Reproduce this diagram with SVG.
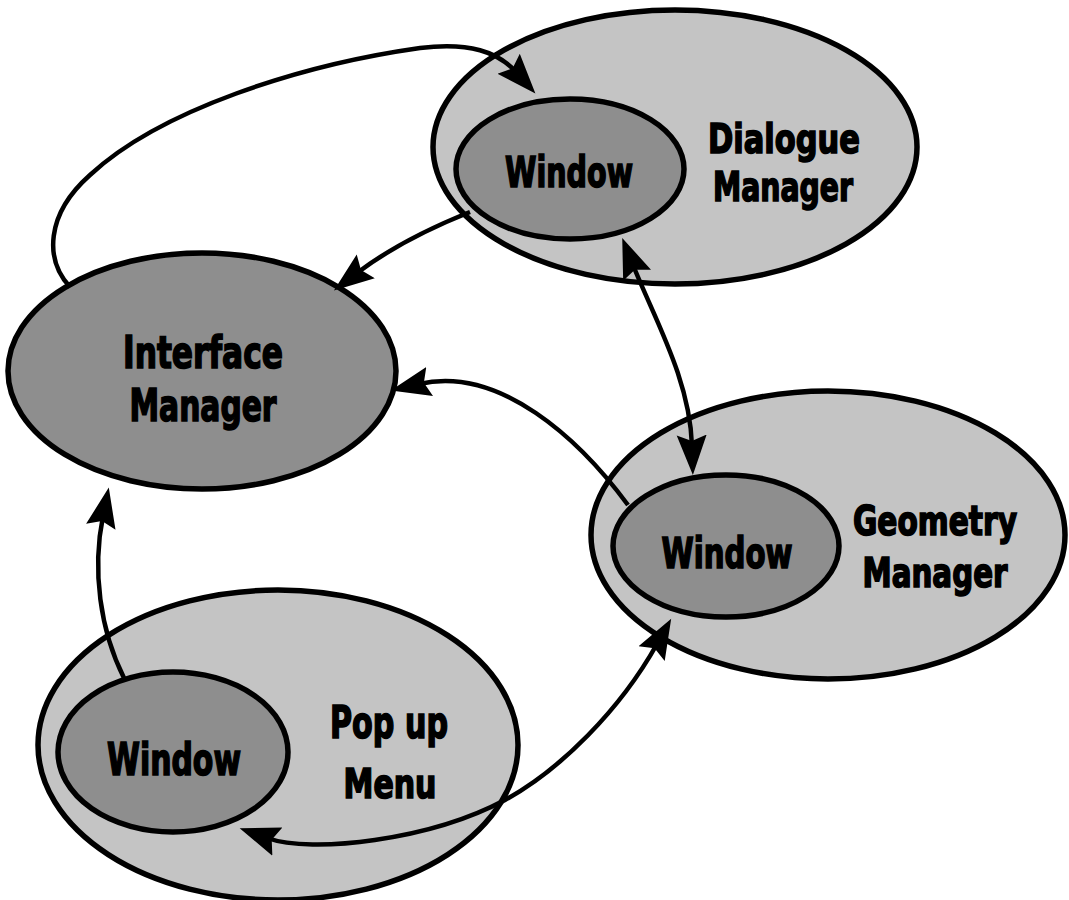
<svg xmlns="http://www.w3.org/2000/svg" width="1069" height="900" viewBox="0 0 1069 900">
  <style>
    .outer { fill: #c4c4c4; stroke: #000; stroke-width: 5.5; }
    .inner { fill: #8e8e8e; stroke: #000; stroke-width: 5.5; }
    .lbl { font-family: "Liberation Sans Narrow", "DejaVu Sans Condensed", "Liberation Sans", sans-serif; font-weight: bold; fill: #000; stroke: #000; stroke-width: 1.6; text-anchor: middle; }
    .edge { fill: none; stroke: #000; stroke-width: 4.5; }
  </style>
  <defs>
    <!-- filled, slightly swept-back arrowhead; the path end sits inside its body -->
    <marker id="head" markerUnits="userSpaceOnUse" markerWidth="44" markerHeight="34" viewBox="0 -17 44 34" refX="11" refY="0" orient="auto-start-reverse">
      <path d="M0,-15 L40,0 L0,15 L6,0 Z" fill="#000"/>
    </marker>
  </defs>
  <rect width="1069" height="900" fill="#fff"/>

  <!-- Dialogue Manager -->
  <g id="dialogue-manager">
    <ellipse class="outer" cx="675" cy="147" rx="242" ry="137"/>
    <ellipse class="inner" cx="570" cy="169" rx="114" ry="70"/>
    <text class="lbl" x="569" y="187" font-size="42" textLength="128" lengthAdjust="spacingAndGlyphs">Window</text>
    <text class="lbl" x="784" y="153" font-size="41" textLength="152" lengthAdjust="spacingAndGlyphs">Dialogue</text>
    <text class="lbl" x="783" y="201" font-size="40" textLength="140" lengthAdjust="spacingAndGlyphs">Manager</text>
  </g>

  <!-- Interface Manager -->
  <g id="interface-manager">
    <ellipse class="inner" cx="202" cy="371" rx="194" ry="118"/>
    <text class="lbl" x="203" y="368" font-size="45" textLength="160" lengthAdjust="spacingAndGlyphs">Interface</text>
    <text class="lbl" x="203" y="421" font-size="45" textLength="147" lengthAdjust="spacingAndGlyphs">Manager</text>
  </g>

  <!-- Geometry Manager -->
  <g id="geometry-manager">
    <ellipse class="outer" cx="828" cy="535" rx="237" ry="144"/>
    <ellipse class="inner" cx="726" cy="546" rx="113" ry="71"/>
    <text class="lbl" x="727" y="568" font-size="42" textLength="131" lengthAdjust="spacingAndGlyphs">Window</text>
    <text class="lbl" x="935" y="535" font-size="40" textLength="164" lengthAdjust="spacingAndGlyphs">Geometry</text>
    <text class="lbl" x="935" y="587" font-size="40" textLength="145" lengthAdjust="spacingAndGlyphs">Manager</text>
  </g>

  <!-- Pop up Menu -->
  <g id="popup-menu">
    <ellipse class="outer" cx="278" cy="745" rx="240" ry="155"/>
    <ellipse class="inner" cx="173" cy="752" rx="115" ry="80"/>
    <text class="lbl" x="174" y="775" font-size="44" textLength="134" lengthAdjust="spacingAndGlyphs">Window</text>
    <text class="lbl" x="389" y="738" font-size="44" textLength="118" lengthAdjust="spacingAndGlyphs">Pop up</text>
    <text class="lbl" x="390" y="798" font-size="40" textLength="93" lengthAdjust="spacingAndGlyphs">Menu</text>
  </g>

  <!-- Connectors -->
  <g id="connectors">
    <path class="edge" d="M70,287 C45,260 45,215 90,175 C160,110 300,65 420,48 C470,42 498,52 516,72" marker-end="url(#head)"/>
    <path class="edge" d="M470,212 C430,228 390,248 357,273" marker-end="url(#head)"/>
    <path class="edge" d="M633,265 C655,320 690,380 692,446" marker-start="url(#head)" marker-end="url(#head)"/>
    <path class="edge" d="M628,505 C580,440 500,365 419,384" marker-end="url(#head)"/>
    <path class="edge" d="M124,678 C100,630 92,570 103,516" marker-end="url(#head)"/>
    <path class="edge" d="M267,838 C312,854 430,840 505,800 C560,770 620,710 657,644" marker-start="url(#head)" marker-end="url(#head)"/>
  </g>
</svg>
